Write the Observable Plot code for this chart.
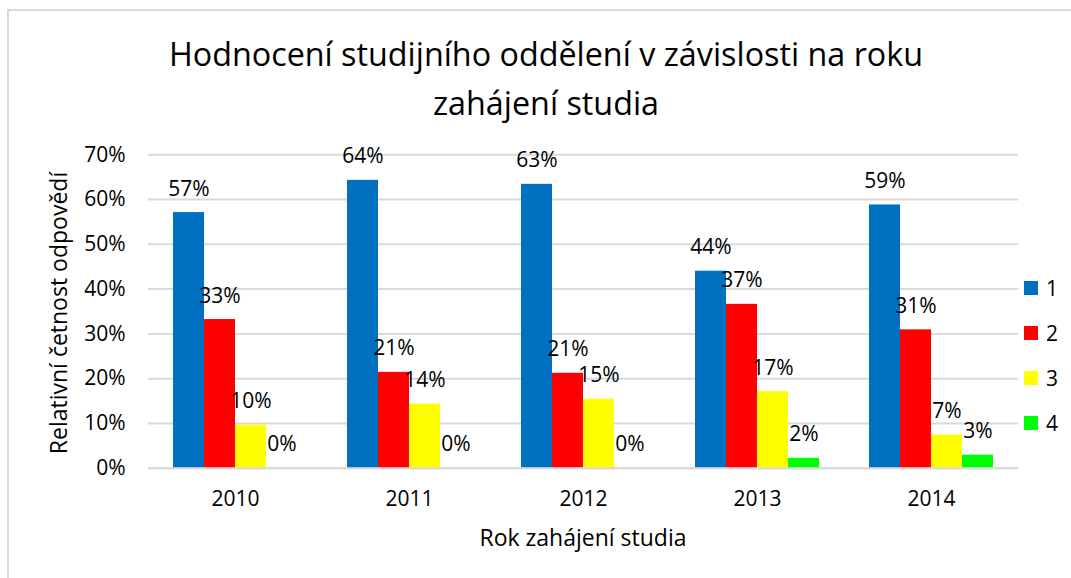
<!DOCTYPE html>
<html>
<head>
<meta charset="utf-8">
<script src="https://cdn.jsdelivr.net/npm/d3@7"></script>
<script src="https://cdn.jsdelivr.net/npm/@observablehq/plot@0.6"></script>
<style>
  html, body { margin: 0; padding: 0; background: #fff; }
  #wrap { position: relative; width: 1071px; height: 578px; overflow: hidden; font-family: "Open Sans", sans-serif; color: #000; }
  #frame { position: absolute; left: 7px; top: 9px; width: 1200px; height: 700px; border-left: 2px solid #d9d9d9; border-top: 2px solid #d9d9d9; }
  #title { position: relative; height: 130px; box-sizing: border-box; padding-top: 29px; text-align: center; width: 1092px; font-size: 32.3px; line-height: 49px; }
  #chart { position: relative; }
  #ytitle { position: absolute; left: 58px; top: 313px; transform: translate(-50%, -50%) rotate(-90deg); white-space: nowrap; font-size: 23px; line-height: 31px; }
  #xtitle { position: absolute; left: 146px; width: 874px; top: 521.5px; text-align: center; font-size: 23px; line-height: 31px; white-space: nowrap; }
  #legend { position: absolute; left: 1024px; top: 266px; font-size: 21px; }
  #legend .item { height: 44.8px; display: flex; align-items: center; }
  #legend .sw { width: 14px; height: 14px; margin-right: 8px; }
</style>
</head>
<body>
<div id="wrap">
  <div id="frame"></div>
  <div id="title"></div>
  <div id="chart"></div>
  <div id="ytitle"></div>
  <div id="xtitle"></div>
  <div id="legend"></div>
</div>
<script>
const titleLines = ["Hodnocení studijního oddělení v závislosti na roku", "zahájení studia"];
const xTitle = "Rok zahájení studia";
const yTitle = "Relativní četnost odpovědí";
const years = ["2010", "2011", "2012", "2013", "2014"];
const series = ["1", "2", "3", "4"];
const colors = ["#0070C0", "#FF0000", "#FFFF00", "#00FF00"];
const yTicks = [0, 0.1, 0.2, 0.3, 0.4, 0.5, 0.6, 0.7];
// values per series, in year order
const values1 = [0.571, 0.643, 0.634, 0.440, 0.588];
const values2 = [0.332, 0.214, 0.212, 0.366, 0.309];
const values3 = [0.096, 0.143, 0.154, 0.171, 0.074];
const values4 = [0.000, 0.000, 0.000, 0.022, 0.029];
const seriesValues = [values1, values2, values3, values4];

const fmt = d3.format(".0%");
const data = years.flatMap((y, i) => series.map((s, j) => ({year: y, series: s, value: seriesValues[j][i]})));

document.getElementById("title").innerHTML = titleLines.map(t => `<div>${t}</div>`).join("");
document.getElementById("xtitle").textContent = xTitle;
document.getElementById("ytitle").textContent = yTitle;
document.getElementById("legend").innerHTML = series.map((s, j) =>
  `<div class="item"><div class="sw" style="background:${colors[j]}"></div><span>${s}</span></div>`).join("");

const chart = Plot.plot({
  width: 1071,
  height: 448,
  marginTop: 24.3,
  marginBottom: 110.3,
  marginLeft: 146,
  marginRight: 51,
  style: {fontFamily: "'Open Sans', sans-serif", fontSize: "21px", color: "#000", background: "transparent", overflow: "visible"},
  facet: {data, x: "year"},
  fx: {domain: years, padding: 0, label: null, tickSize: 0, tickPadding: 23, axis: "bottom"},
  x: {domain: series, paddingInner: 0, paddingOuter: 0.765, axis: null},
  y: {domain: [0, 0.7], ticks: yTicks, tickFormat: fmt, tickSize: 0, tickPadding: 23, label: null},
  color: {domain: series, range: colors},
  marks: [
    Plot.ruleY(yTicks, {stroke: "#d9d9d9", strokeWidth: 2}),
    Plot.barY(data, {x: "series", y: "value", fill: "series"}),
    Plot.ruleY([0], {stroke: "#d9d9d9", strokeWidth: 2}),
    Plot.text(data, {x: "series", y: "value", text: d => fmt(d.value), lineAnchor: "bottom", dy: -17, fontSize: 21, fill: "#000"})
  ]
});
document.getElementById("chart").appendChild(chart);
</script>
</body>
</html>
